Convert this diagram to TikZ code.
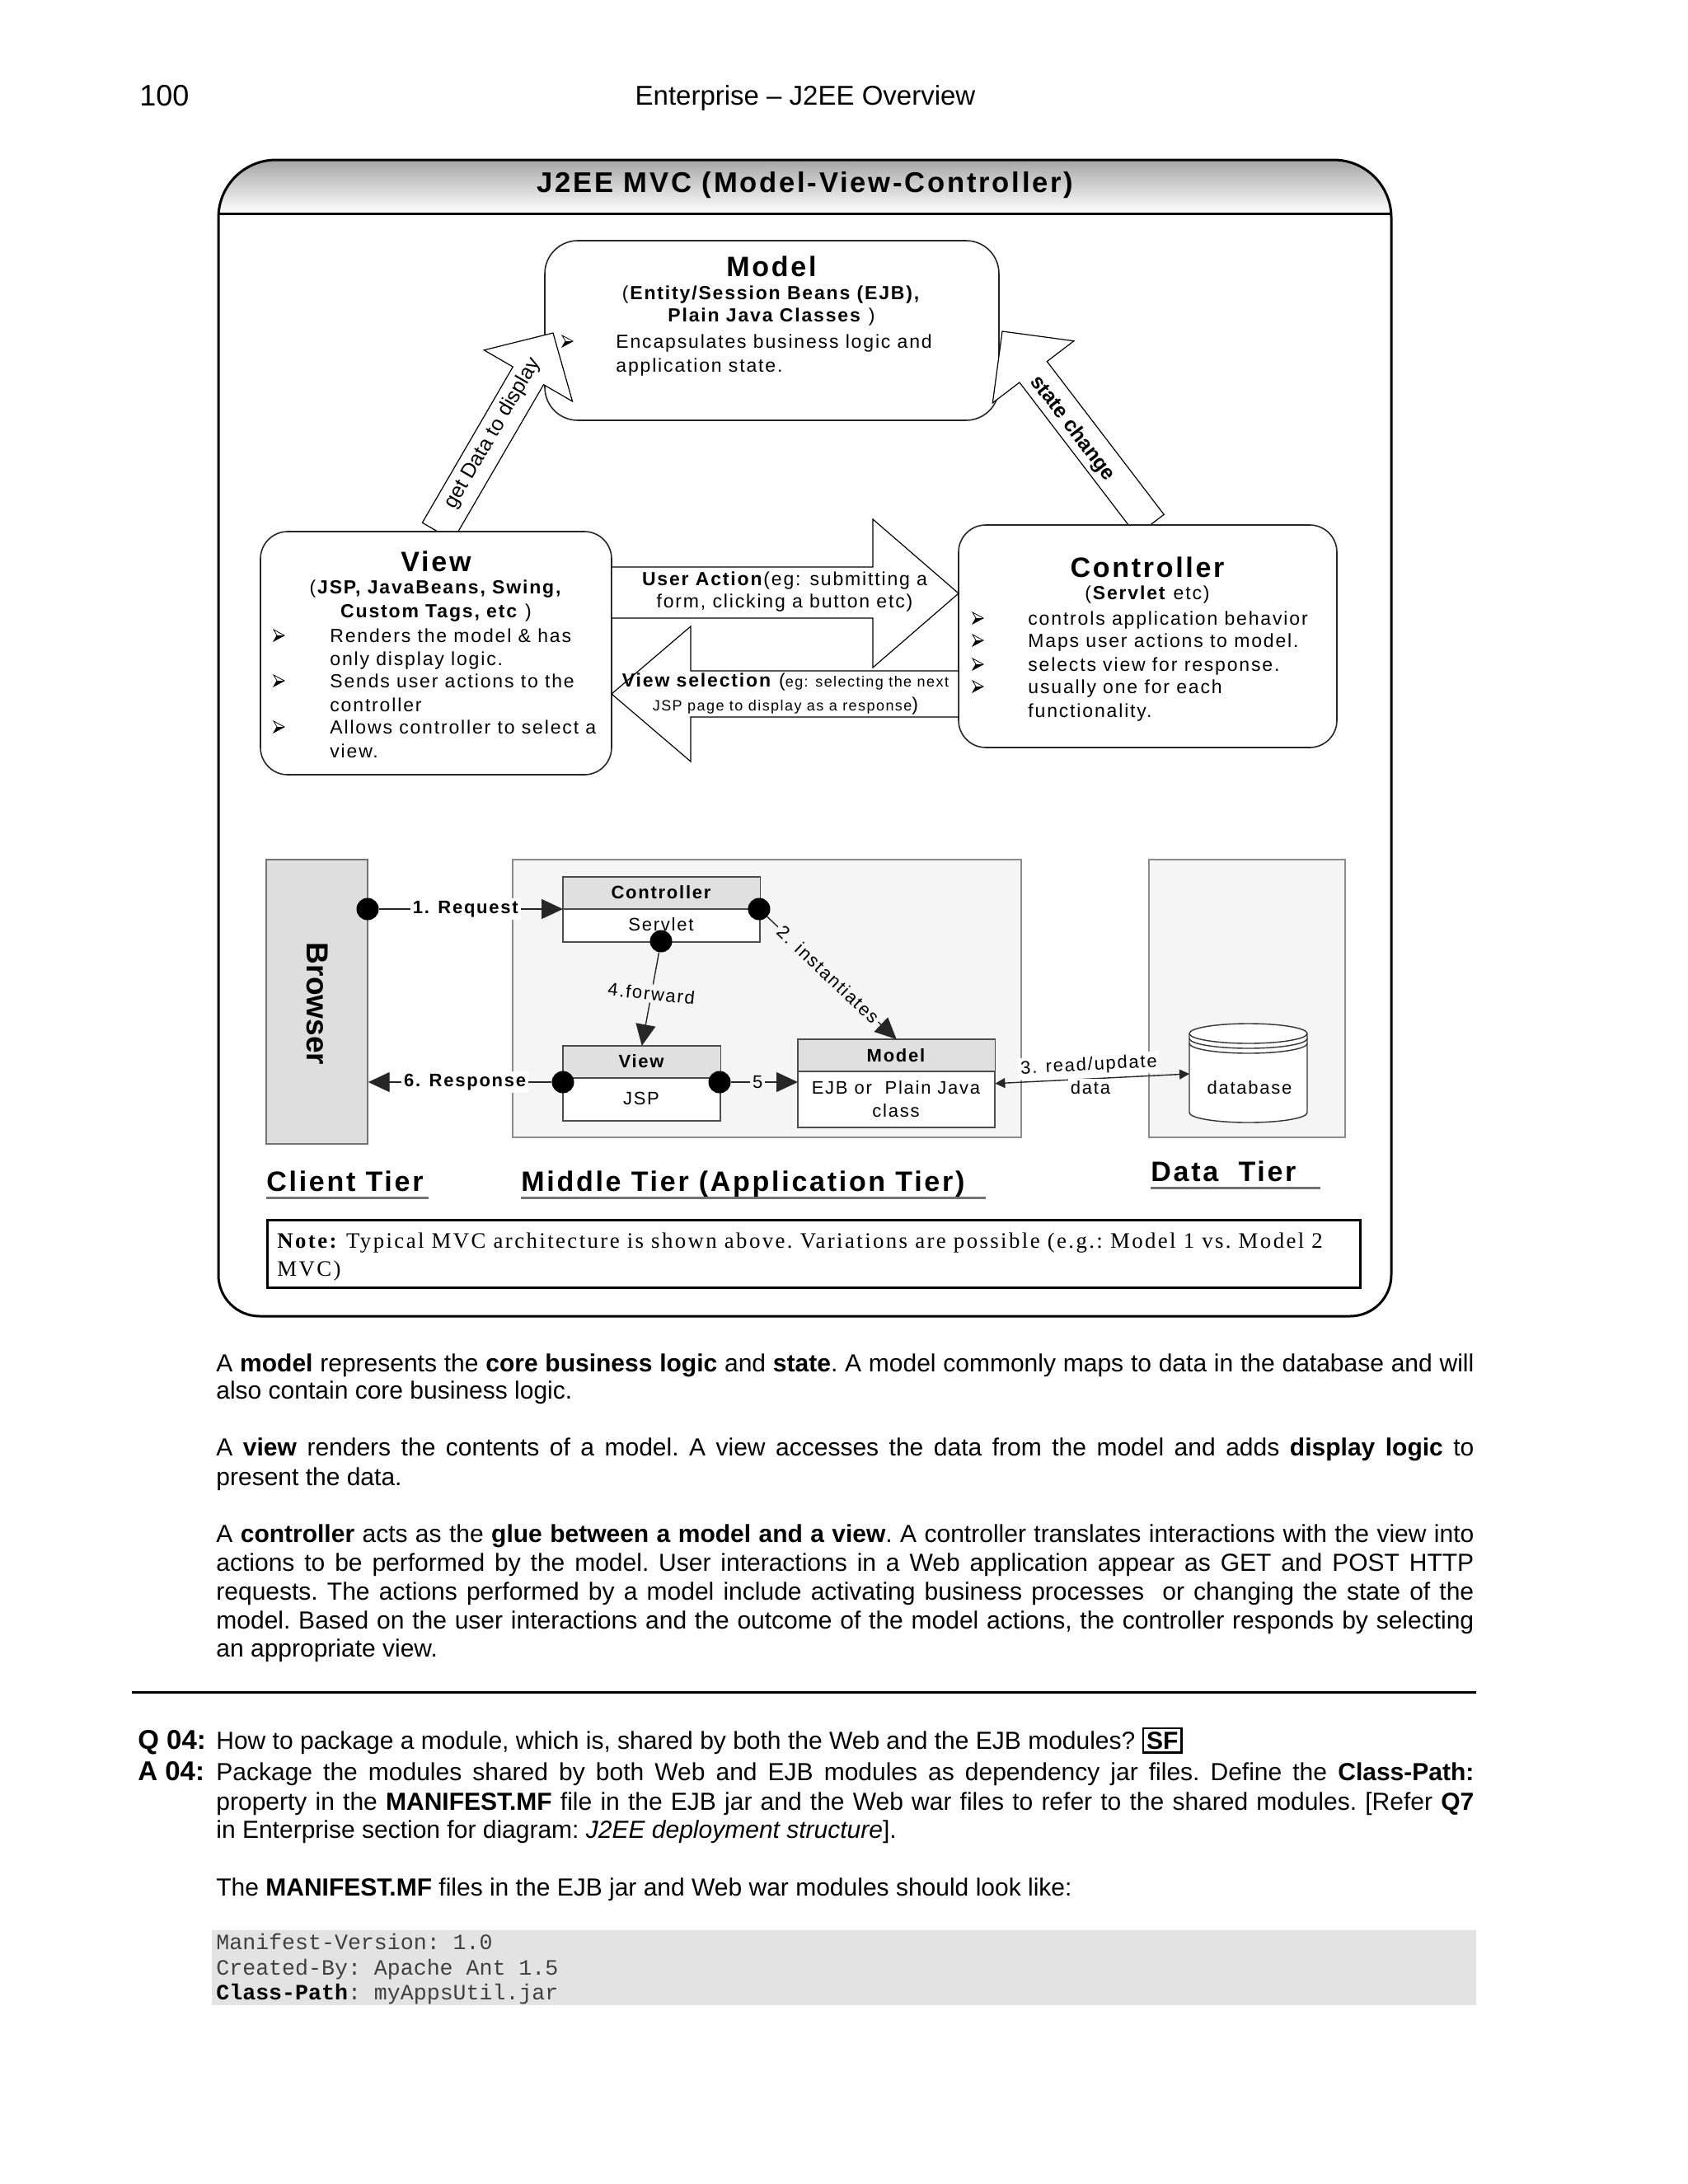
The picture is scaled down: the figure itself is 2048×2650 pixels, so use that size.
\documentclass[tikz,border=0pt]{standalone}
\usepackage{fontspec}
\setmainfont{Liberation Sans}
\setmonofont{Liberation Mono}
\newfontfamily\dg[LetterSpace=8]{Liberation Sans}
\newfontfamily\dgn{Liberation Sans}
\newfontfamily\nt[LetterSpace=9]{Liberation Serif}
\usetikzlibrary{arrows.meta}
\newcommand\sz[1]{\fontsize{#1}{#1}\selectfont}
\newcommand\jline[3]{\node[anchor=base west, inner sep=0, font=\sz{15}\frenchspacing] (#1) at (262,#2) {\makebox[763pt][s]{#3}};}
\newcommand\pline[3]{\node[anchor=base west, inner sep=0, font=\sz{15}\frenchspacing] (#1) at (262,#2) {#3};}
\setlength\fboxsep{1.5pt}
\setlength\fboxrule{1.1pt}
\begin{document}
\begin{tikzpicture}[x=0.5pt,y=-0.5pt,
  bx/.style={draw=black!85, line width=0.8pt, fill=white, inner sep=0},
  blk/.style={draw=black, line width=0.6pt, fill=white, line join=miter},
  tx/.style={inner sep=0, font=\dg\sz{11.5}},
  txb/.style={inner sep=0, font=\dg\bfseries\sz{11.5}},
  ttl/.style={inner sep=0, font=\dg\bfseries\sz{17}},
  bul/.pic={\filldraw[fill=white, draw=black, line width=0.4pt] (-6,-7) -- (7,0) -- (-6,7) -- (-2,0) -- cycle;
            \fill[black] (-2,0) -- (7,0) -- (-6,7) -- cycle;},
  sbox/.style={draw=black!70, line width=0.7pt, fill=white, inner sep=0, anchor=north west},
  sline/.style={draw=black!70, line width=0.7pt},
  hdr/.style={fill=black!12},
  dotn/.style={circle, fill=black, inner sep=0, minimum size=13.5pt},
  conn/.style={draw=black!85, line width=0.7pt, -{Triangle[length=13pt,width=12pt]}},
  cl/.style={font=\dg\sz{11}, inner sep=1.5pt, fill=#1},
  sl/.style={inner sep=0, font=\dg\sz{11}},
  tierl/.style={anchor=base west, inner sep=0, font=\dg\bfseries\sz{17}},
  uline/.style={draw=black!55, line width=1.5pt},
]
\useasboundingbox (0,0) rectangle (2048,2650);
\fill[white] (0,0) rectangle (2048,2650);

% page header
\node[anchor=base west, inner sep=0, font=\sz{18}] (pg) at (169,128) {100};
\node[anchor=base, inner sep=0, font=\sz{16.5}] (hd) at (977,127) {Enterprise – J2EE Overview};

% main frame
\begin{scope}
\clip[rounded corners=35pt] (265,194) rectangle (1688,1597);
\shade[top color=black!35, bottom color=white] (265,194) rectangle (1688,259);
\end{scope}
\draw[line width=1.5pt] (265,264) arc[start angle=180, end angle=270, radius=70] -- (1618,194)
  arc[start angle=270, end angle=360, radius=70] -- (1688,1547)
  arc[start angle=0, end angle=90, radius=50] -- (315,1597)
  arc[start angle=90, end angle=180, radius=50] -- cycle;
\draw[line width=1.5pt] (265,259) -- (1688,259);
\node[inner sep=0, font=\dg\bfseries\sz{17.3}] (title) at (977,225) {J2EE MVC (Model-View-Controller)};

% model box
\node[bx, rounded corners=20pt, minimum width=275.5pt, minimum height=109pt] (model) at (936.5,401) {};

% diagonal arrows
\draw[blk] (512.4,634.2) -- (622.3,445.1) -- (587.3,424.8) -- (671,404) -- (694.5,487.0) -- (659.5,466.7) -- (549.6,655.8) -- cycle;
\draw[blk] (1412.2,624.3) -- (1270.3,438.6) -- (1302.9,413.7) -- (1216,402) -- (1204.3,488.9) -- (1236.9,464.0) -- (1378.8,649.7) -- cycle;

% view and controller boxes
\node[bx, rounded corners=16.5pt, minimum width=213pt, minimum height=147.5pt] (view) at (529,792.5) {};
\node[bx, rounded corners=16.5pt, minimum width=229.5pt, minimum height=135pt] (ctrl) at (1392.5,772) {};

% horizontal block arrows
\draw[blk] (742,688) -- (1059,688) -- (1059,630) -- (1163,720) -- (1059,810) -- (1059,750) -- (742,750) -- cycle;
\draw[blk] (1163,814) -- (838,814) -- (838,760) -- (742,842) -- (838,924) -- (838,870) -- (1163,870) -- cycle;

% model texts
\node[ttl] (mt) at (936,323) {Model};
\node[tx] (ms1) at (936,358) {(\textbf{Entity/Session Beans (EJB),}};
\node[tx] (ms2) at (936,385) {\textbf{Plain Java Classes} )};
\pic at (688,414) {bul};
\node[tx, anchor=base west] (mb1) at (747,422) {Encapsulates business logic and};
\node[tx, anchor=base west] (mb2) at (747,451) {application state.};

% view texts
\node[ttl] (vt) at (529,681) {View};
\node[tx] (vs1) at (529,715) {(\textbf{JSP, JavaBeans, Swing,}};
\node[tx] (vs2) at (529,744) {\textbf{Custom Tags, etc} )};
\pic at (338,771) {bul};
\pic at (338,826) {bul};
\pic at (338,882) {bul};
\node[tx, anchor=base west] (vb1) at (400,779) {Renders the model \& has};
\node[tx, anchor=base west] (vb2) at (400,807) {only display logic.};
\node[tx, anchor=base west] (vb3) at (400,834) {Sends user actions to the};
\node[tx, anchor=base west] (vb4) at (400,863) {controller};
\node[tx, anchor=base west] (vb5) at (400,890) {Allows controller to select a};
\node[tx, anchor=base west] (vb6) at (400,919) {view.};

% controller texts
\node[ttl] (ctt) at (1392,688) {Controller};
\node[tx] (cts) at (1392,722) {(\textbf{Servlet} etc)};
\pic at (1186,750) {bul};
\pic at (1186,777) {bul};
\pic at (1186,806) {bul};
\pic at (1186,833) {bul};
\node[tx, anchor=base west] (cb1) at (1247,758) {controls application behavior};
\node[tx, anchor=base west] (cb2) at (1247,785) {Maps user actions to model.};
\node[tx, anchor=base west] (cb3) at (1247,814) {selects view for response.};
\node[tx, anchor=base west] (cb4) at (1247,841) {usually one for each};
\node[tx, anchor=base west] (cb5) at (1247,870) {functionality.};

% arrow texts
\node[tx] (ua1) at (952,705) {\textbf{User Action}(eg: submitting a};
\node[tx] (ua2) at (952,732) {form, clicking a button etc)};
\node[tx] (vsl1) at (953,828) {\textbf{View selection} ({\sz{9}eg: selecting the next}};
\node[tx] (vsl2) at (953,857) {{\sz{9}JSP page to display as a response})};
\node[inner sep=0, font=\dgn\sz{12.5}, rotate=60] (gd) at (598,526) {get Data to display};
\node[inner sep=0, font=\dgn\bfseries\sz{12.5}, rotate=-52.6] (sc) at (1301,520) {state change};

% ---------- tiers ----------
\node[draw=black!55, fill=black!13, line width=0.7pt, minimum width=61.5pt, minimum height=172.5pt, inner sep=0] (brw) at (384.5,1215.5) {};
\node[rotate=-90, font=\dgn\bfseries\sz{18.5}, inner sep=0] (brt) at (385,1218) {Browser};
\node[draw=black!45, fill=black!4, line width=0.7pt, minimum width=308.5pt, minimum height=168.5pt, inner sep=0] (mid) at (930.5,1211.5) {};
\node[draw=black!45, fill=black!4, line width=0.7pt, minimum width=119pt, minimum height=168.5pt, inner sep=0] (dat) at (1513,1211.5) {};

% small boxes
\node[sbox, minimum width=119pt, minimum height=39pt] (cb) at (683,1064) {};
\fill[hdr] (cb.north west) rectangle (cb.east |- 0,1103);
\draw[sline] (cb.north west) rectangle (cb.south east);
\draw[sline] (cb.west |- 0,1103) -- (cb.east |- 0,1103);
\node[sbox, minimum width=95pt, minimum height=45pt] (vb) at (683,1269) {};
\fill[hdr] (vb.north west) rectangle (vb.east |- 0,1308);
\draw[sline] (vb.north west) rectangle (vb.south east);
\draw[sline] (vb.west |- 0,1308) -- (vb.east |- 0,1308);
\node[sbox, minimum width=119pt, minimum height=53pt] (mb) at (968,1261) {};
\fill[hdr] (mb.north west) rectangle (mb.east |- 0,1300);
\draw[sline] (mb.north west) rectangle (mb.south east);
\draw[sline] (mb.west |- 0,1300) -- (mb.east |- 0,1300);

\node[sl, font=\dg\bfseries\sz{11}] (cbt) at (802,1083) {Controller};
\node[sl] (cbs) at (802,1122) {Servlet};
\node[sl, font=\dg\bfseries\sz{11}] (vbt) at (778,1288) {View};
\node[sl] (vbs) at (778,1333) {JSP};
\node[sl, font=\dg\bfseries\sz{11}] (mbt) at (1087,1281) {Model};
\node[sl] (mbs1) at (1087,1320) {EJB or\ \ Plain Java};
\node[sl] (mbs2) at (1087,1348) {class};

% database
\filldraw[fill=white, draw=black!80, line width=0.7pt] (1443,1254) -- (1443,1350)
  arc[start angle=180, end angle=0, x radius=71.5, y radius=12] -- (1586,1254)
  arc[start angle=0, end angle=-180, x radius=71.5, y radius=12] -- cycle;
\draw[black!80, line width=0.7pt] (1443,1254) arc[start angle=180, end angle=0, x radius=71.5, y radius=12];
\draw[black!80, line width=0.7pt] (1443,1260) arc[start angle=180, end angle=0, x radius=71.5, y radius=12];
\draw[black!80, line width=0.7pt] (1443,1266) arc[start angle=180, end angle=0, x radius=71.5, y radius=12];
\node[sl] (dbt) at (1516,1320) {database};
\coordinate (dbw) at (1443,1303);

% dots
\node[dotn] (d1) at (446,1103) {};
\node[dotn] (d2) at (921,1103) {};
\node[dotn] (d3) at (802,1142) {};
\node[dotn] (d4) at (683,1313) {};
\node[dotn] (d5) at (873,1313) {};

% connectors
\draw[conn] (d1) -- (d1 -| cb.west) node[pos=0.47, cl=white, font=\dg\bfseries\sz{11}] (l1) {1. Request};
\draw[conn] (d2) -- (mb.north) node[pos=0.47, sloped, cl=black!4] (l2) {2. instantiates};
\draw[conn] (d3) -- (vb.north) node[pos=0.44, rotate=-6, cl=black!4] (l4) {4.forward};
\draw[conn] (d5) -- (d5 -| mb.west) node[pos=0.4, cl=black!4] (l5) {5};
\draw[conn] (d4) -- (d4 -| brw.east) node[pos=0.472, cl=white, font=\dg\bfseries\sz{11}] (l6) {6. Response};
\draw[draw=black!85, line width=0.7pt, {Triangle[length=6pt,width=6pt]}-{Triangle[length=6pt,width=6pt]}] (mb.east) -- (dbw);
\node[cl=white, rotate=3] (l3a) at (1321,1293) {3. read/update};
\node[cl=white] (l3b) at (1323,1320) {data};

% tier labels
\node[tierl] (ct) at (323,1445) {Client Tier};
\draw[uline] (323,1453) -- (520,1453);
\node[tierl] (mtt) at (632,1445) {Middle Tier (Application Tier)};
\draw[uline] (632,1453) -- (1196,1453);
\node[tierl] (dtt) at (1396,1433) {Data\ \ Tier};
\draw[uline] (1396,1441) -- (1602,1441);

% note
\node[draw=black, line width=1.5pt, minimum width=663pt, minimum height=41pt, anchor=north west, inner sep=0] (note) at (323,1479) {};
\node[anchor=base west, inner sep=0, font=\nt\sz{13.4}\frenchspacing] (n1) at (336,1514) {\textbf{Note:} Typical MVC architecture is shown above. Variations are possible (e.g.: Model 1 vs. Model 2};
\node[anchor=base west, inner sep=0, font=\nt\sz{13.4}] (n2) at (336,1548) {MVC)};

% body text
\jline{p1a}{1664}{A \textbf{model} represents the \textbf{core business logic} and \textbf{state}. A model commonly maps to data in the database and will}
\pline{p1b}{1697}{also contain core business logic.}
\jline{p2a}{1766}{A \textbf{view} renders the contents of a model. A view accesses the data from the model and adds \textbf{display logic} to}
\pline{p2b}{1802}{present the data.}
\jline{p3a}{1871}{A \textbf{controller} acts as the \textbf{glue between a model and a view}. A controller translates interactions with the view into}
\jline{p3b}{1906}{actions to be performed by the model. User interactions in a Web application appear as GET and POST HTTP}
\jline{p3c}{1941}{requests. The actions performed by a model include activating business processes\ \ or changing the state of the}
\jline{p3d}{1976}{model. Based on the user interactions and the outcome of the model actions, the controller responds by selecting}
\pline{p3e}{2010}{an appropriate view.}

\draw[line width=1.5pt] (160,2053) -- (1791,2053);

\node[anchor=base west, inner sep=0, font=\bfseries\sz{16.5}] (q) at (167,2122) {Q 04:};
\pline{qt}{2122}{How to package a module, which is, shared by both the Web and the EJB modules? \fbox{\textbf{SF}}}
\node[anchor=base west, inner sep=0, font=\bfseries\sz{16.5}] (a) at (167,2160) {A 04:};
\jline{a1}{2160}{Package the modules shared by both Web and EJB modules as dependency jar files. Define the \textbf{Class-Path:}}
\jline{a2}{2196}{property in the \textbf{MANIFEST.MF} file in the EJB jar and the Web war files to refer to the shared modules. [Refer \textbf{Q7}}
\pline{a3}{2230}{in Enterprise section for diagram: \textit{J2EE deployment structure}].}
\pline{mf}{2300}{The \textbf{MANIFEST.MF} files in the EJB jar and Web war modules should look like:}

% code
\node[fill=black!11, minimum width=767pt, minimum height=45.5pt, anchor=north west, inner sep=0] (code) at (257,2342) {};
\node[anchor=base west, inner sep=0, font=\ttfamily\sz{13.3}, text=black!75] (c1) at (262,2365) {Manifest-Version: 1.0};
\node[anchor=base west, inner sep=0, font=\ttfamily\sz{13.3}, text=black!75] (c2) at (262,2396) {Created-By: Apache Ant 1.5};
\node[anchor=base west, inner sep=0, font=\ttfamily\sz{13.3}, text=black!75] (c3) at (262,2426) {\textcolor{black}{\textbf{Class-Path}}: myAppsUtil.jar};
\end{tikzpicture}
\end{document}
